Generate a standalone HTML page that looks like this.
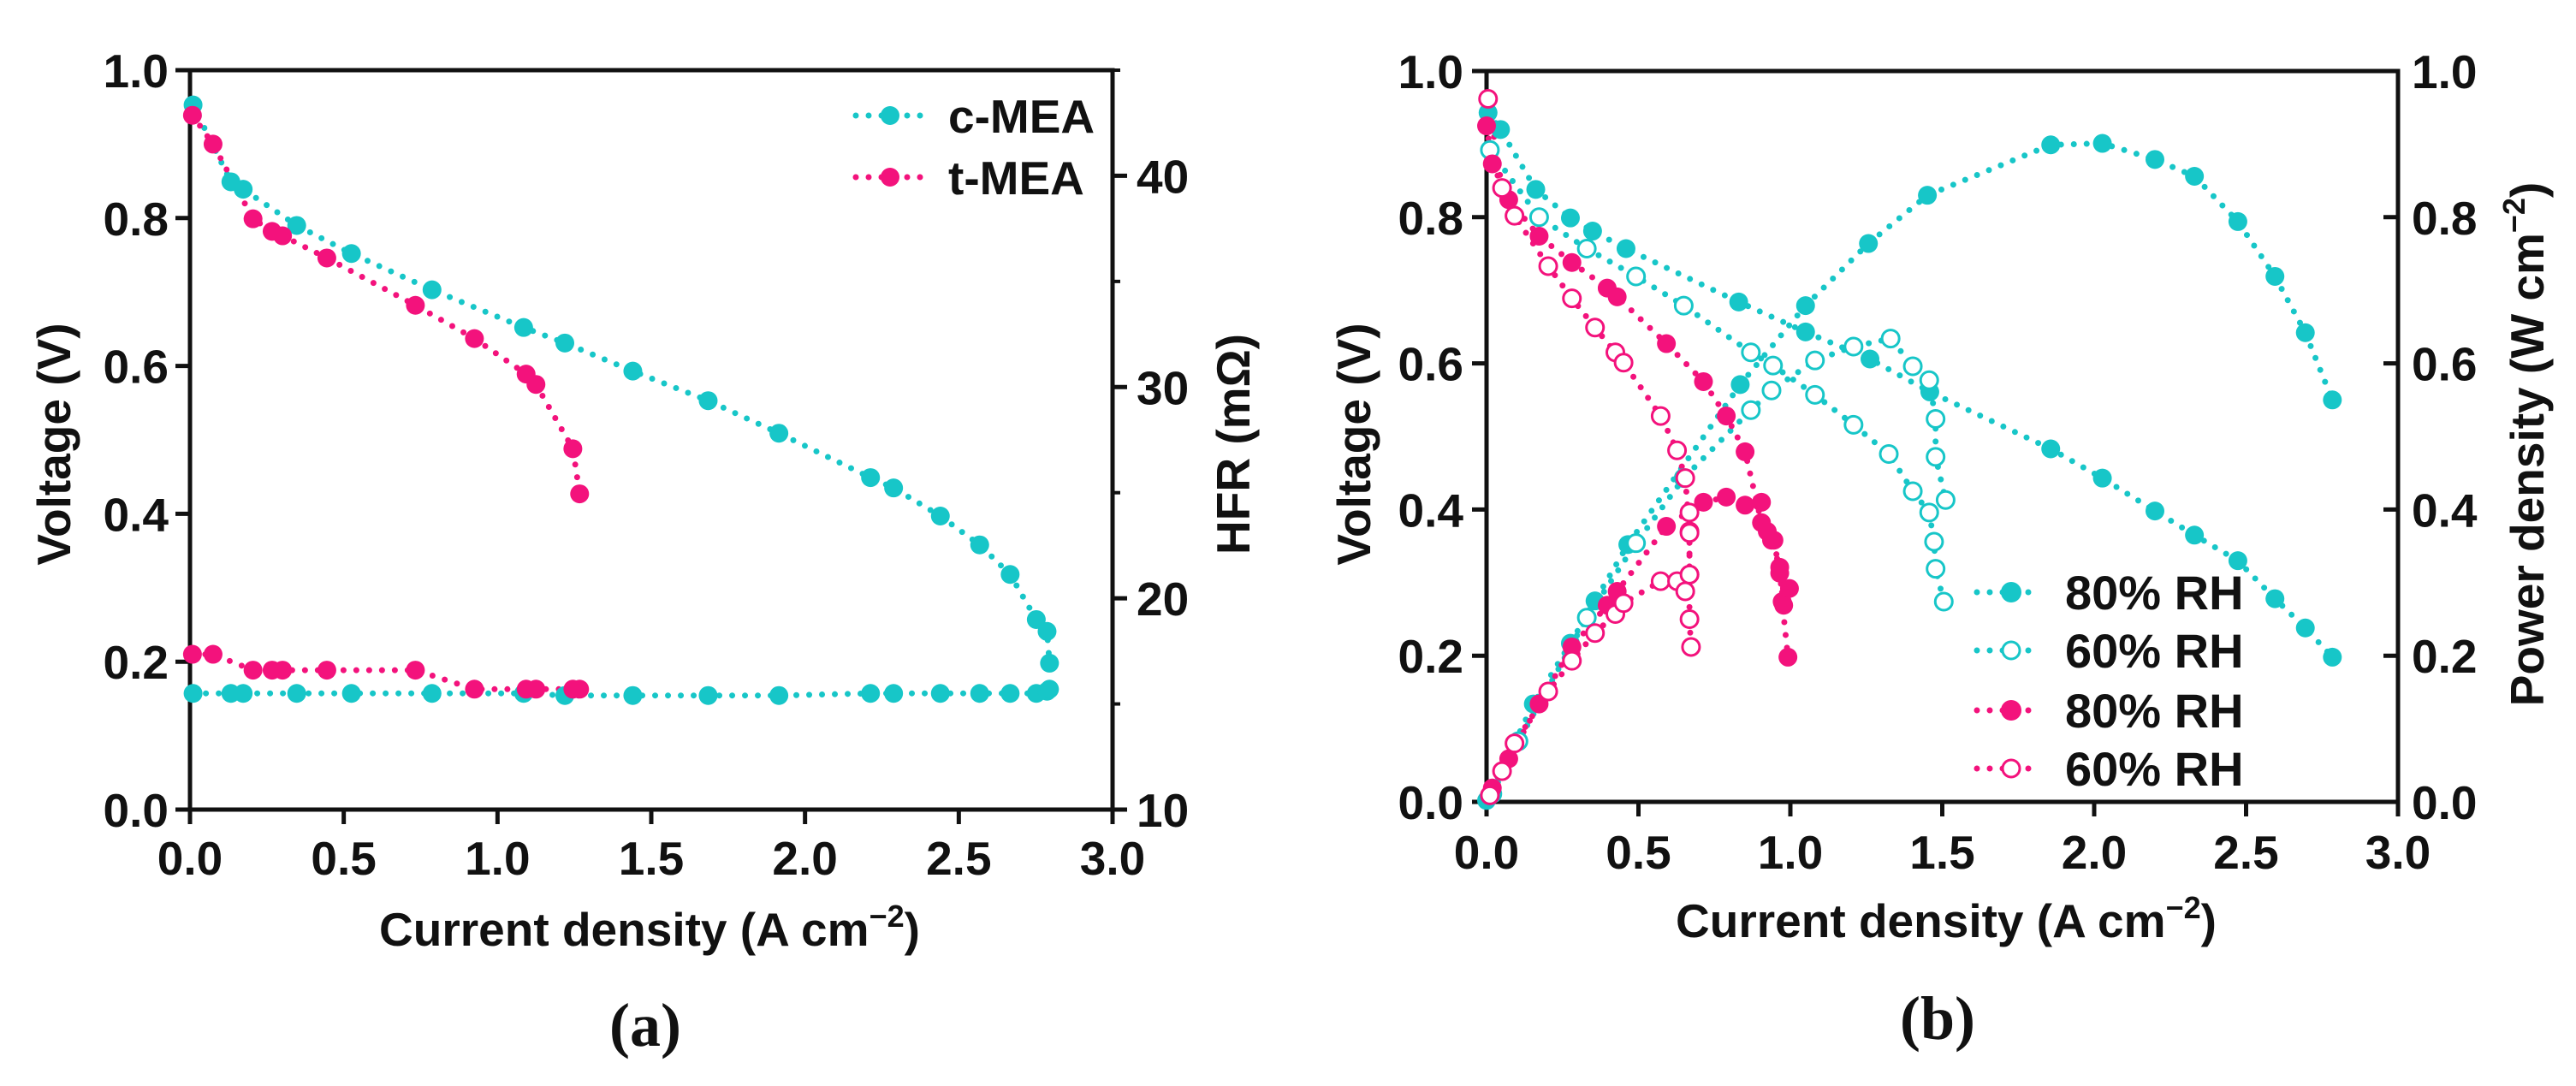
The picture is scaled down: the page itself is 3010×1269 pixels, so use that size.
<!DOCTYPE html>
<html><head><meta charset="utf-8"><style>
html,body{margin:0;padding:0;background:#fff;}
svg{display:block;}
text{font-family:"Liberation Sans",Arial,sans-serif;font-weight:bold;fill:#111;}
</style></head><body>
<svg id="fig" width="3010" height="1269" viewBox="0 0 3010 1269" xmlns="http://www.w3.org/2000/svg"></svg>
<script>
// ---------- Panel (a) data ----------
const aCmeaJ = [0.01,0.133,0.173,0.347,0.525,0.787,1.085,1.219,1.44,1.685,1.915,2.213,2.288,2.44,2.568,2.667,2.752,2.787,2.795];
const aCmeaV = [0.953,0.849,0.839,0.79,0.752,0.703,0.652,0.631,0.593,0.553,0.509,0.449,0.435,0.397,0.358,0.318,0.257,0.241,0.198];
const aCmeaHFR = [15.5,15.5,15.5,15.5,15.5,15.5,15.5,15.4,15.4,15.4,15.4,15.5,15.5,15.5,15.5,15.5,15.5,15.6,15.7];
const aTmeaJ = [0.008,0.075,0.205,0.267,0.301,0.445,0.733,0.925,1.093,1.125,1.245,1.267];
const aTmeaV = [0.939,0.9,0.799,0.782,0.776,0.746,0.682,0.637,0.589,0.575,0.488,0.427];
const aTmeaHFR = [17.35,17.35,16.6,16.6,16.6,16.6,16.6,15.7,15.7,15.7,15.7,15.7];
const aXTicks = ["0.0","0.5","1.0","1.5","2.0","2.5","3.0"];
const aYTicks = ["0.0","0.2","0.4","0.6","0.8","1.0"];
const aHfrTicks = ["10","20","30","40"];
const aLegend = ["c-MEA","t-MEA"];

// ---------- Panel (b) data ----------
const bC80J = [0.005,0.046,0.162,0.276,0.349,0.459,0.83,1.05,1.262,1.459,1.857,2.027,2.2,2.33,2.473,2.595,2.695,2.784];
const bC80V = [0.943,0.92,0.838,0.799,0.781,0.757,0.684,0.643,0.606,0.561,0.483,0.443,0.398,0.365,0.33,0.278,0.238,0.198];
const bC80PJ = [0.0,0.154,0.276,0.357,0.465,0.835,1.05,1.257,1.451,1.857,2.027,2.2,2.33,2.473,2.595,2.695,2.784];
const bC80P = [0.002,0.134,0.217,0.275,0.352,0.571,0.679,0.764,0.83,0.899,0.901,0.879,0.856,0.794,0.719,0.642,0.55];
const bC60J = [0.011,0.173,0.33,0.492,0.649,0.87,0.943,1.081,1.208,1.324,1.403,1.457,1.473,1.478,1.505];
const bC60V = [0.892,0.8,0.757,0.719,0.679,0.615,0.597,0.557,0.516,0.476,0.425,0.396,0.356,0.319,0.274];
const bC60PJ = [0.019,0.105,0.33,0.492,0.649,0.87,0.938,1.081,1.208,1.33,1.403,1.457,1.478,1.478,1.511];
const bC60P = [0.011,0.083,0.252,0.354,0.443,0.536,0.563,0.604,0.623,0.634,0.596,0.577,0.524,0.472,0.413];
const bT80J = [0.0,0.019,0.073,0.173,0.281,0.397,0.43,0.592,0.714,0.789,0.851,0.905,0.938,0.965,0.973,0.992];
const bT80V = [0.925,0.873,0.824,0.774,0.738,0.703,0.691,0.627,0.575,0.528,0.479,0.382,0.358,0.321,0.274,0.198];
const bT80PJ = [0.019,0.073,0.173,0.281,0.397,0.43,0.592,0.714,0.789,0.851,0.905,0.924,0.946,0.965,0.978,0.997];
const bT80P = [0.019,0.059,0.134,0.212,0.269,0.288,0.377,0.41,0.417,0.406,0.41,0.37,0.358,0.313,0.269,0.292];
const bT60J = [0.005,0.051,0.092,0.203,0.281,0.357,0.424,0.451,0.573,0.627,0.654,0.668,0.668,0.668,0.673];
const bT60V = [0.962,0.84,0.802,0.733,0.689,0.649,0.615,0.601,0.528,0.481,0.443,0.37,0.311,0.25,0.212];
const bT60PJ = [0.011,0.051,0.092,0.203,0.281,0.357,0.424,0.451,0.573,0.627,0.654,0.668,0.668,0.668];
const bT60P = [0.009,0.042,0.08,0.151,0.193,0.231,0.257,0.272,0.302,0.302,0.288,0.311,0.368,0.396];
const bXTicks = ["0.0","0.5","1.0","1.5","2.0","2.5","3.0"];
const bYTicks = ["0.0","0.2","0.4","0.6","0.8","1.0"];
const bLegend = ["80% RH","60% RH","80% RH","60% RH"];

const CY = "#17c6c8", MG = "#f3127c";
const NS = "http://www.w3.org/2000/svg";
const svg = document.getElementById("fig");
function mk(tag, attrs, parent, txt){
  const e = document.createElementNS(NS, tag);
  for (const k in attrs) e.setAttribute(k, attrs[k]);
  if (txt !== undefined) e.textContent = txt;
  (parent || svg).appendChild(e);
  return e;
}
function axisFns(x0,x1,y0,y1,xmax,ymin,ymax){
  return {
    X: v => x0 + (x1-x0)*v/xmax,
    Y: v => y1 - (y1-y0)*(v-ymin)/(ymax-ymin)
  };
}
function dotted(xs, ys, color, X, Y, name){
  const d = xs.map((v,i)=>(i?"L":"M")+X(v).toFixed(1)+" "+Y(ys[i]).toFixed(1)).join(" ");
  const p = mk("path",{d:d,fill:"none",stroke:color,"stroke-width":7,"stroke-linecap":"round","stroke-dasharray":"0 15"});
  
  
}
function markers(xs, ys, color, open, X, Y, name){
  const g = mk("g",{});
  
  
  xs.forEach((v,i)=>{
    const c = mk("circle", open ? {cx:X(v),cy:Y(ys[i]),r:10,fill:"#fff",stroke:color,"stroke-width":3}
                               : {cx:X(v),cy:Y(ys[i]),r:11,fill:color}, g);
    
    
  });
}
function frame(x0,x1,y0,y1,prefix){
  const r = mk("rect",{x:x0,y:y0,width:x1-x0,height:y1-y0,fill:"none",stroke:"#111","stroke-width":5});
  
  
}

// ================= Panel (a) =================
(function(){
  const x0=222,x1=1300,y0=82,y1=946;
  const A = axisFns(x0,x1,y0,y1,3,0,1);
  const H = axisFns(x0,x1,y0,y1,3,10,45);
  frame(x0,x1,y0,y1,'panel-a');
  aXTicks.forEach((t,i)=>{
    const v = parseFloat(t), x = A.X(v);
    mk("line",{x1:x,y1:y1,x2:x,y2:y1+17,stroke:"#111","stroke-width":5});
    const e = mk("text",{x:x,y:1022,"font-size":55,"text-anchor":"middle"},null,t);
    
    
  });
  aYTicks.forEach(t=>{
    const v = parseFloat(t), y = A.Y(v);
    mk("line",{x1:x0-17,y1:y,x2:x0,y2:y,stroke:"#111","stroke-width":5});
    const e = mk("text",{x:197,y:y+20,"font-size":55,"text-anchor":"end"},null,t);
    
    
  });
  aHfrTicks.forEach(t=>{
    const v = parseFloat(t), y = H.Y(v);
    mk("line",{x1:x1,y1:y,x2:x1+17,y2:y,stroke:"#111","stroke-width":5});
    mk("line",{x1:x1,y1:H.Y(v+5),x2:x1+9,y2:H.Y(v+5),stroke:"#111","stroke-width":4});
    const e = mk("text",{x:1328,y:y+20,"font-size":55},null,t);
    
    
  });
  let e = mk("text",{x:759,y:1105,"font-size":55,"text-anchor":"middle"});
  e.innerHTML = 'Current density (A cm<tspan dy="-22" font-size="36">−2</tspan><tspan dy="22">)</tspan>';
  
  
  e = mk("text",{x:0,y:0,"font-size":55,"text-anchor":"middle",transform:"translate(82,519) rotate(-90)"},null,"Voltage (V)");
  
  
  e = mk("text",{x:0,y:0,"font-size":55,"text-anchor":"middle",transform:"translate(1460,519) rotate(-90)"},null,"HFR (mΩ)");
  
  
  e = mk("text",{x:754,y:1222,"font-size":72,"text-anchor":"middle",style:"font-family:'Liberation Serif',serif"},null,"(a)");
  
  

  dotted(aCmeaJ,aCmeaHFR,CY,A.X,H.Y,'a-cmea-hfr-line');
  dotted(aTmeaJ,aTmeaHFR,MG,A.X,H.Y,'a-tmea-hfr-line');
  dotted(aCmeaJ,aCmeaV,CY,A.X,A.Y,'a-cmea-voltage-line');
  dotted(aTmeaJ,aTmeaV,MG,A.X,A.Y,'a-tmea-voltage-line');
  markers(aCmeaJ,aCmeaHFR,CY,false,A.X,H.Y,'a-cmea-hfr-markers');
  markers(aTmeaJ,aTmeaHFR,MG,false,A.X,H.Y,'a-tmea-hfr-markers');
  markers(aCmeaJ,aCmeaV,CY,false,A.X,A.Y,'a-cmea-voltage-markers');
  markers(aTmeaJ,aTmeaV,MG,false,A.X,A.Y,'a-tmea-voltage-markers');

  const cols=[CY,MG], ly=[135,207];
  aLegend.forEach((t,i)=>{
    const g = mk("g",{});
    
    
    mk("path",{d:`M1000 ${ly[i]} L1078 ${ly[i]}`,stroke:cols[i],"stroke-width":7,"stroke-linecap":"round","stroke-dasharray":"0 15",fill:"none"},g);
    mk("circle",{cx:1040,cy:ly[i],r:11,fill:cols[i]},g);
    mk("text",{x:1108,y:ly[i]+20,"font-size":55},g,t);
  });
})();

// ================= Panel (b) =================
(function(){
  const x0=1737,x1=2802,y0=83,y1=937;
  const B = axisFns(x0,x1,y0,y1,3,0,1);
  frame(x0,x1,y0,y1,'panel-b');
  bXTicks.forEach(t=>{
    const v=parseFloat(t), x=B.X(v);
    mk("line",{x1:x,y1:y1,x2:x,y2:y1+17,stroke:"#111","stroke-width":5});
    const e = mk("text",{x:x,y:1015,"font-size":55,"text-anchor":"middle"},null,t);
    
    
  });
  bYTicks.forEach(t=>{
    const v=parseFloat(t), y=B.Y(v);
    mk("line",{x1:x0-17,y1:y,x2:x0,y2:y,stroke:"#111","stroke-width":5});
    mk("line",{x1:x1-17,y1:y,x2:x1,y2:y,stroke:"#111","stroke-width":5});
    let e = mk("text",{x:1710,y:y+20,"font-size":55,"text-anchor":"end"},null,t);
    
    
    e = mk("text",{x:2818,y:y+20,"font-size":55},null,t);
    
    
  });
  let e = mk("text",{x:2274,y:1095,"font-size":55,"text-anchor":"middle"});
  e.innerHTML = 'Current density (A cm<tspan dy="-22" font-size="36">−2</tspan><tspan dy="22">)</tspan>';
  
  
  e = mk("text",{x:0,y:0,"font-size":55,"text-anchor":"middle",transform:"translate(1601,519) rotate(-90)"},null,"Voltage (V)");
  
  
  e = mk("text",{x:0,y:0,"font-size":55,"text-anchor":"middle",transform:"translate(2972,519) rotate(-90)"});
  e.innerHTML = 'Power density (W cm<tspan dy="-22" font-size="36">−2</tspan><tspan dy="22">)</tspan>';
  
  
  e = mk("text",{x:2264,y:1214,"font-size":72,"text-anchor":"middle",style:"font-family:'Liberation Serif',serif"},null,"(b)");
  
  

  dotted(bC80J,bC80V,CY,B.X,B.Y,'b-c80-voltage-line');
  dotted(bC80PJ,bC80P,CY,B.X,B.Y,'b-c80-power-line');
  dotted(bC60J,bC60V,CY,B.X,B.Y,'b-c60-voltage-line');
  dotted(bC60PJ,bC60P,CY,B.X,B.Y,'b-c60-power-line');
  dotted(bT80J,bT80V,MG,B.X,B.Y,'b-t80-voltage-line');
  dotted(bT80PJ,bT80P,MG,B.X,B.Y,'b-t80-power-line');
  dotted(bT60J,bT60V,MG,B.X,B.Y,'b-t60-voltage-line');
  dotted(bT60PJ,bT60P,MG,B.X,B.Y,'b-t60-power-line');
  markers(bC80J,bC80V,CY,false,B.X,B.Y,'b-c80-voltage-markers');
  markers(bC80PJ,bC80P,CY,false,B.X,B.Y,'b-c80-power-markers');
  markers(bC60J,bC60V,CY,true,B.X,B.Y,'b-c60-voltage-markers');
  markers(bC60PJ,bC60P,CY,true,B.X,B.Y,'b-c60-power-markers');
  markers(bT80J,bT80V,MG,false,B.X,B.Y,'b-t80-voltage-markers');
  markers(bT80PJ,bT80P,MG,false,B.X,B.Y,'b-t80-power-markers');
  markers(bT60J,bT60V,MG,true,B.X,B.Y,'b-t60-voltage-markers');
  markers(bT60PJ,bT60P,MG,true,B.X,B.Y,'b-t60-power-markers');

  const cols=[CY,CY,MG,MG], open=[false,true,false,true], ly=[692,760,830,898];
  bLegend.forEach((t,i)=>{
    const g = mk("g",{});
    
    
    mk("path",{d:`M2310 ${ly[i]} L2382 ${ly[i]}`,stroke:cols[i],"stroke-width":7,"stroke-linecap":"round","stroke-dasharray":"0 15",fill:"none"},g);
    if(open[i]) mk("circle",{cx:2350,cy:ly[i],r:10,fill:"#fff",stroke:cols[i],"stroke-width":3},g);
    else mk("circle",{cx:2350,cy:ly[i],r:12,fill:cols[i]},g);
    mk("text",{x:2413,y:ly[i]+20,"font-size":56},g,t);
  });
})();
</script>
</body></html>
